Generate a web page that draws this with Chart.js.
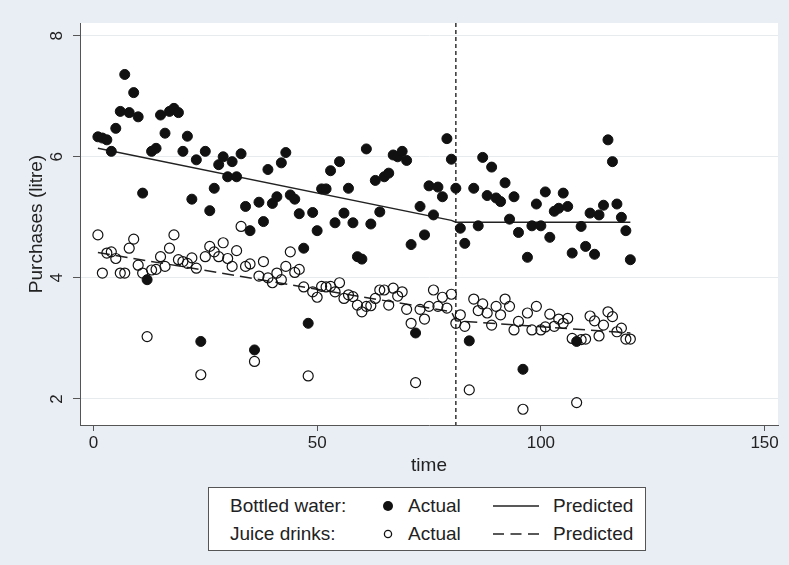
<!DOCTYPE html>
<html>
<head>
<meta charset="utf-8">
<script src="https://cdn.jsdelivr.net/npm/chart.js@4/dist/chart.umd.min.js"></script>
<style>
  body { margin: 0; background: #e9eef4; }
  #wrap { position: relative; width: 789px; height: 565px; background: #e9eef4; }
  #legend {
    position: absolute; left: 208px; top: 487px; width: 436px; height: 62px;
    background: #fff; border: 1px solid #555;
    font-family: "Liberation Sans", Arial, sans-serif; font-size: 19px; color: #222;
  }
  #legend span { position: absolute; line-height: 22px; white-space: nowrap; }
  #legend svg { position: absolute; left: 0; top: 0; }
</style>
</head>
<body>
<div id="wrap">
  <canvas id="myChart" width="789" height="565"></canvas>
  <div id="legend">
    <svg width="436" height="62">
      <circle cx="179" cy="18" r="5" fill="#111"></circle>
      <circle cx="179" cy="46" r="3.6" fill="none" stroke="#111" stroke-width="1.3"></circle>
      <line x1="284" y1="18" x2="330" y2="18" stroke="#222" stroke-width="1.5"></line>
      <line x1="284" y1="46" x2="330" y2="46" stroke="#222" stroke-width="1.5" stroke-dasharray="11,6.5"></line>
    </svg>
    <span style="left:21px; top:7px;">Bottled water:</span>
    <span style="left:199px; top:7px;">Actual</span>
    <span style="left:344px; top:7px;">Predicted</span>
    <span style="left:21px; top:35px;">Juice drinks:</span>
    <span style="left:199px; top:35px;">Actual</span>
    <span style="left:344px; top:35px;">Predicted</span>
  </div>
</div>
<script>
// time index (months)
var time = Array.from({ length: 120 }, function (_, i) { return i + 1; });

// Bottled water, actual purchases
var waterActual = [
  6.33, 6.31, 6.28, 6.09, 6.47, 6.75, 7.36, 6.73, 7.06, 6.66,
  5.40, 3.97, 6.09, 6.14, 6.69, 6.39, 6.75, 6.80, 6.73, 6.09,
  6.34, 5.30, 5.95, 2.95, 6.09, 5.11, 5.48, 5.87, 6.00, 5.67,
  5.92, 5.67, 6.05, 5.18, 4.78, 2.81, 5.25, 4.93, 5.79, 5.23,
  5.34, 5.90, 6.07, 5.37, 5.30, 5.06, 4.49, 3.25, 5.08, 4.78,
  5.47, 5.47, 5.77, 4.91, 5.92, 5.07, 5.48, 4.91, 4.35, 4.31,
  6.13, 4.89, 5.61, 5.09, 5.67, 5.73, 6.03, 6.00, 6.09, 5.94,
  4.55, 3.09, 5.18, 4.71, 5.52, 5.04, 5.50, 5.34, 6.30, 5.96,
  5.48, 4.82, 4.57, 2.96, 5.48, 4.86, 5.99, 5.36, 5.83, 5.32,
  5.26, 5.57, 4.97, 5.34, 4.75, 2.49, 4.34, 4.86, 5.22, 4.86,
  5.42, 4.67, 5.10, 5.15, 5.40, 5.18, 4.41, 2.95, 4.85, 4.52,
  5.07, 4.39, 5.04, 5.20, 6.28, 5.92, 5.22, 5.00, 4.78, 4.30
];

// Juice drinks, actual purchases
var juiceActual = [
  4.71, 4.08, 4.41, 4.43, 4.32, 4.08, 4.08, 4.49, 4.64, 4.21,
  4.08, 3.03, 4.13, 4.14, 4.35, 4.19, 4.49, 4.71, 4.30, 4.27,
  4.24, 4.33, 4.16, 2.40, 4.35, 4.52, 4.43, 4.35, 4.58, 4.32,
  4.19, 4.45, 4.85, 4.19, 4.23, 2.62, 4.03, 4.27, 4.00, 3.92,
  4.08, 3.97, 4.19, 4.43, 4.09, 4.14, 3.85, 2.38, 3.77, 3.68,
  3.86, 3.85, 3.86, 3.77, 3.92, 3.66, 3.72, 3.69, 3.55, 3.44,
  3.53, 3.54, 3.66, 3.80, 3.80, 3.55, 3.83, 3.70, 3.77, 3.48,
  3.25, 2.27, 3.48, 3.32, 3.53, 3.80, 3.53, 3.68, 3.50, 3.73,
  3.25, 3.39, 3.20, 2.15, 3.65, 3.46, 3.57, 3.42, 3.22, 3.53,
  3.39, 3.65, 3.53, 3.14, 3.28, 1.83, 3.42, 3.14, 3.53, 3.14,
  3.19, 3.40, 3.20, 3.32, 3.25, 3.33, 3.00, 1.94, 2.98, 2.99,
  3.37, 3.29, 3.04, 3.22, 3.44, 3.36, 3.11, 3.17, 2.99, 2.99
];

// fitted segments (straight lines, so only the end points)
var predTime = [1, 80, 81, 120];
var waterPred = [6.14, 4.95, 4.92, 4.92];
var juicePred = [4.42, 3.44, 3.29, 3.09];

// intervention
var breakTime = 81;

var xTicks = [0, 50, 100, 150];
var yTicks = [2, 4, 6, 8];

function pairs(xs, ys) {
  return xs.map(function (x, i) { return { x: x, y: ys[i] }; });
}

var fontFamily = "'Liberation Sans', Arial, sans-serif";
Chart.defaults.font.family = fontFamily;
Chart.defaults.color = "#222";

var extras = {
  id: "extras",
  beforeDatasetsDraw: function (chart) {
    var ctx = chart.ctx, a = chart.chartArea;
    var px = chart.scales.x.getPixelForValue(breakTime);
    ctx.save();
    ctx.strokeStyle = "#333";
    ctx.lineWidth = 1.5;
    ctx.setLineDash([4, 3]);
    ctx.beginPath();
    ctx.moveTo(px, a.top);
    ctx.lineTo(px, a.bottom);
    ctx.stroke();
    ctx.restore();
  },
  afterDraw: function (chart) {
    // rotated y tick labels, Stata style
    var ctx = chart.ctx, ys = chart.scales.y;
    ctx.save();
    ctx.font = "17px " + fontFamily;
    ctx.fillStyle = "#222";
    ctx.textAlign = "center";
    ctx.textBaseline = "middle";
    yTicks.forEach(function (v) {
      var py = ys.getPixelForValue(v);
      ctx.setTransform(1, 0, 0, 1, 57, py);
      ctx.rotate(-Math.PI / 2);
      ctx.fillText(String(v), 0, 0);
    });
    ctx.restore();
  }
};

var whiteArea = {
  id: "whiteArea",
  beforeDraw: function (chart) {
    var ctx = chart.ctx, a = chart.chartArea;
    ctx.save();
    ctx.fillStyle = "#fff";
    ctx.fillRect(a.left, a.top, a.right - a.left, a.bottom - a.top);
    ctx.restore();
  }
};

new Chart("myChart", {
  type: "scatter",
  data: {
    datasets: [
      {
        label: "Bottled water: Actual",
        data: pairs(time, waterActual),
        backgroundColor: "#111",
        borderColor: "#111",
        borderWidth: 1,
        pointRadius: 5,
        pointHoverRadius: 5
      },
      {
        label: "Juice drinks: Actual",
        data: pairs(time, juiceActual),
        backgroundColor: "rgba(0,0,0,0)",
        borderColor: "#111",
        borderWidth: 1.2,
        pointRadius: 5,
        pointHoverRadius: 5
      },
      {
        label: "Bottled water: Predicted",
        data: pairs(predTime, waterPred),
        showLine: true,
        borderColor: "#222",
        borderWidth: 1.5,
        pointRadius: 0
      },
      {
        label: "Juice drinks: Predicted",
        data: pairs(predTime, juicePred),
        showLine: true,
        borderColor: "#222",
        borderWidth: 1.5,
        borderDash: [12, 6],
        pointRadius: 0
      }
    ]
  },
  options: {
    responsive: false,
    animation: false,
    devicePixelRatio: 1,
    layout: { padding: { top: 23, right: 11, left: 0, bottom: 88 } },
    plugins: {
      legend: { display: false },
      tooltip: { enabled: false }
    },
    scales: {
      x: {
        type: "linear",
        min: -3,
        max: 153,
        afterBuildTicks: function (scale) {
          scale.ticks = xTicks.map(function (v) { return { value: v }; });
        },
        afterFit: function (scale) { scale.height = 52; },
        border: { display: true, color: "#555", width: 1 },
        grid: { drawOnChartArea: false, drawTicks: true, tickLength: 6, tickColor: "#555" },
        ticks: { font: { size: 17 }, color: "#222", padding: 2, maxRotation: 0 },
        title: { display: true, text: "time", font: { size: 19 }, color: "#222", padding: { top: 0, bottom: 0 } }
      },
      y: {
        min: 1.57,
        max: 8.21,
        afterBuildTicks: function (scale) {
          scale.ticks = yTicks.map(function (v) { return { value: v }; });
        },
        afterFit: function (scale) { scale.width = 80; },
        border: { display: true, color: "#555", width: 1 },
        grid: { color: "#e8ebee", drawTicks: true, tickLength: 7, tickColor: "#555" },
        ticks: { display: false },
        title: { display: true, text: "Purchases (litre)", font: { size: 19 }, color: "#222", padding: { top: 25, bottom: 0 } }
      }
    }
  },
  plugins: [whiteArea, extras]
});
</script>
</body>
</html>
